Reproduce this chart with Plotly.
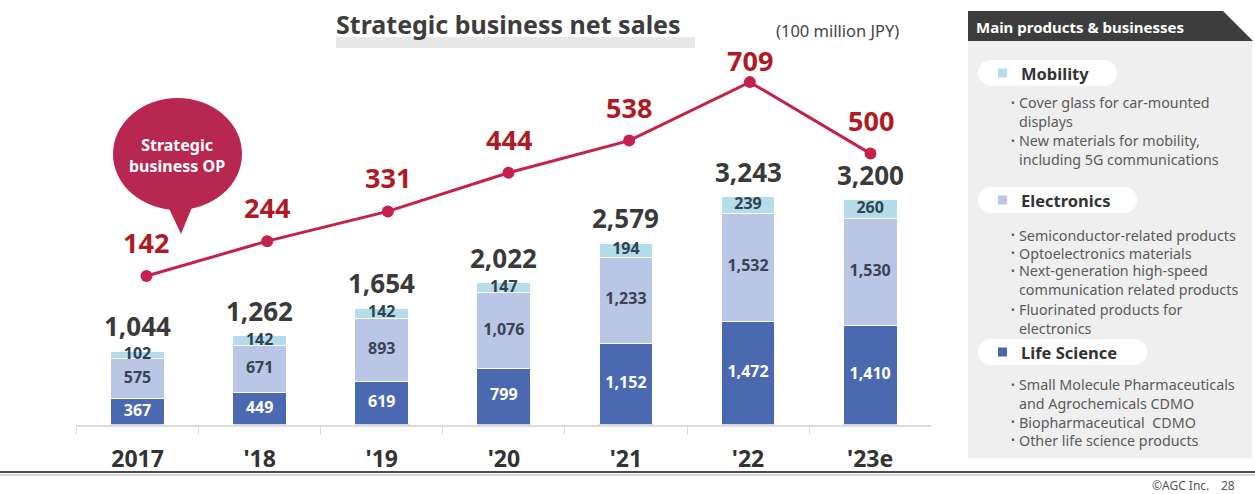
import plotly.graph_objects as go
import numpy as np

# ---------------- data ----------------
years = ["2017", "'18", "'19", "'20", "'21", "'22", "'23e"]
life_science = [367, 449, 619, 799, 1152, 1472, 1410]
electronics = [575, 671, 893, 1076, 1233, 1532, 1530]
mobility = [102, 142, 142, 147, 194, 239, 260]
totals = [1044, 1262, 1654, 2022, 2579, 3243, 3200]
op_values = [142, 244, 331, 444, 538, 709, 500]

# ---------------- styles ----------------
W, H = 1255, 494
FONT = "Noto Sans"
C_LIFE = "#4a69b1"
C_ELEC = "#b9c6e5"
C_MOB = "#b5dcea"
C_LINE = "#c4214d"
C_OPTXT = "#b01a24"
C_DARK = "#3a3a3a"


def PX(x):
    return x / W


def PY(y):
    return 1 - y / H


fig = go.Figure()

fig.add_trace(go.Bar(x=years, y=life_science, name="Life Science", marker=dict(color=C_LIFE, line=dict(color="white", width=1)), width=0.44))
fig.add_trace(go.Bar(x=years, y=electronics, name="Electronics", marker=dict(color=C_ELEC, line=dict(color="white", width=1)), width=0.44))
fig.add_trace(go.Bar(x=years, y=mobility, name="Mobility", marker=dict(color=C_MOB, line=dict(color="white", width=1)), width=0.44))

ls = np.array(life_science)
el = np.array(electronics)
mb = np.array(mobility)
fig.add_trace(go.Scatter(x=years, y=ls / 2, mode="text", text=[f"{v:,}" for v in life_science],
                         textfont=dict(family=FONT, size=16, color="white", weight="bold"), hoverinfo="skip"))
fig.add_trace(go.Scatter(x=years, y=ls + el / 2, mode="text", text=[f"{v:,}" for v in electronics],
                         textfont=dict(family=FONT, size=16, color="#3b4252", weight="bold"), hoverinfo="skip"))
fig.add_trace(go.Scatter(x=years, y=ls + el + mb / 2, mode="text", text=[f"{v:,}" for v in mobility],
                         textfont=dict(family=FONT, size=16, color="#2f4450", weight="bold"), hoverinfo="skip"))

fig.add_trace(go.Scatter(x=years, y=op_values, xaxis="x2", yaxis="y2", mode="lines+markers",
                         line=dict(color=C_LINE, width=3), marker=dict(color=C_LINE, size=12)))

# totals above bars
for i, t in enumerate(totals):
    fig.add_annotation(x=i, y=t, xref="x", yref="y", text=f"{t:,}", showarrow=False, xanchor="center",
                       yanchor="bottom", yshift=5,
                       font=dict(family=FONT, size=26, color=C_DARK, weight="bold"))

# OP labels
op_shift = [13, 13, 13, 13, 13, 1, 13]
for i, (v, s) in enumerate(zip(op_values, op_shift)):
    fig.add_annotation(x=i, y=v, xref="x2", yref="y2", text=str(v), showarrow=False, xanchor="center",
                       yanchor="bottom", yshift=s,
                       font=dict(family=FONT, size=27, color=C_OPTXT, weight="bold"))

x0d, x1d = PX(76.5), PX(931.2)
y0d, y1d = PY(424.5), PY(30)

fig.update_layout(
    width=W, height=H, margin=dict(l=0, r=0, t=0, b=0),
    paper_bgcolor="white", plot_bgcolor="white", showlegend=False, barmode="stack",
    font=dict(family=FONT),
    xaxis=dict(domain=[x0d, x1d], type="category", range=[-0.5, 6.5], showline=True, linecolor="#dcdcdc",
               linewidth=1.5, ticks="outside", tickson="boundaries", ticklen=9, tickcolor="#dcdcdc",
               showgrid=False, zeroline=False, ticklabelstandoff=13,
               tickfont=dict(family=FONT, size=23, color="#333333", weight="bold")),
    xaxis2=dict(overlaying="x", type="category", range=[-0.58, 6.503], visible=False),
    yaxis=dict(domain=[y0d, y1d], range=[0, 5620], visible=False),
    yaxis2=dict(overlaying="y", range=[-292.1, 861.4], visible=False),
)

shapes = []
ann = []

# title band + title
shapes.append(dict(type="rect", xref="paper", yref="paper", x0=PX(336), x1=PX(695), y0=PY(48), y1=PY(37),
                   fillcolor="#e8e8e8", line=dict(width=0), layer="below"))
ann.append(dict(x=PX(334), y=PY(24), xref="paper", yref="paper", xanchor="left", yanchor="middle", showarrow=False,
                text="Strategic business net sales", font=dict(family=FONT, size=25, color="#3d3d3d", weight="bold")))
ann.append(dict(x=PX(774), y=PY(31), xref="paper", yref="paper", xanchor="left", yanchor="middle", showarrow=False,
                text="(100 million JPY)", font=dict(family=FONT, size=16.5, color="#444444")))

# speech bubble
shapes.append(dict(type="circle", xref="paper", yref="paper", x0=PX(113), x1=PX(242), y0=PY(210), y1=PY(98),
                   fillcolor="#b8274f", line=dict(width=0)))
shapes.append(dict(type="path", xref="paper", yref="paper",
                   path=f"M {PX(165)},{PY(200)} L {PX(195)},{PY(200)} L {PX(181)},{PY(234)} Z",
                   fillcolor="#b8274f", line=dict(width=0)))
ann.append(dict(x=PX(177), y=PY(155), xref="paper", yref="paper", xanchor="center", yanchor="middle",
                showarrow=False, text="Strategic<br>business OP", align="center",
                font=dict(family=FONT, size=16, color="white", weight="bold")))

# right panel
shapes.append(dict(type="rect", xref="paper", yref="paper", x0=PX(968), x1=PX(1252), y0=PY(458), y1=PY(41),
                   fillcolor="#efefef", line=dict(width=0), layer="below"))
shapes.append(dict(type="path", xref="paper", yref="paper",
                   path=f"M {PX(968)},{PY(11)} L {PX(1223)},{PY(11)} L {PX(1253)},{PY(41)} L {PX(968)},{PY(41)} Z",
                   fillcolor="#3d3d3d", line=dict(width=0)))
ann.append(dict(x=PX(974), y=PY(27), xref="paper", yref="paper", xanchor="left", yanchor="middle", showarrow=False,
                text="Main products &amp; businesses", font=dict(family=FONT, size=15, color="white", weight="bold")))


def pill(x0, x1, yc, h=26):
    r = h / 2
    ya, yb = yc - r, yc + r
    k = r * 0.55
    p = (f"M {PX(x0 + r)},{PY(ya)} L {PX(x1 - r)},{PY(ya)} "
         f"C {PX(x1 - r + k)},{PY(ya)} {PX(x1)},{PY(yc - k)} {PX(x1)},{PY(yc)} "
         f"C {PX(x1)},{PY(yc + k)} {PX(x1 - r + k)},{PY(yb)} {PX(x1 - r)},{PY(yb)} "
         f"L {PX(x0 + r)},{PY(yb)} "
         f"C {PX(x0 + r - k)},{PY(yb)} {PX(x0)},{PY(yc + k)} {PX(x0)},{PY(yc)} "
         f"C {PX(x0)},{PY(yc - k)} {PX(x0 + r - k)},{PY(ya)} {PX(x0 + r)},{PY(ya)} Z")
    return dict(type="path", xref="paper", yref="paper", path=p, fillcolor="white", line=dict(width=0))


BFS = 14.3
LH = BFS * 1.3
# each bullet: (lines, y of first line)
sections = [
    ("Mobility", C_MOB, 1117, 73, [(["Cover glass for car-mounted", "displays"], 103),
                                   (["New materials for mobility,", "including 5G communications"], 141)]),
    ("Electronics", C_ELEC, 1137, 200, [(["Semiconductor-related products"], 235),
                                        (["Optoelectronics materials"], 253),
                                        (["Next-generation high-speed", "communication related products"], 271),
                                        (["Fluorinated products for", "electronics"], 310)]),
    ("Life Science", C_LIFE, 1147, 352, [(["Small Molecule Pharmaceuticals", "and Agrochemicals CDMO"], 385),
                                         (["Biopharmaceutical  CDMO"], 422),
                                         (["Other life science products"], 440)]),
]
for name, col, xr, yc, bullets in sections:
    shapes.append(pill(978, xr, yc))
    shapes.append(dict(type="rect", xref="paper", yref="paper", x0=PX(998), x1=PX(1007), y0=PY(yc + 4.5), y1=PY(yc - 4.5),
                       fillcolor=col, line=dict(width=0)))
    ann.append(dict(x=PX(1019), y=PY(yc), xref="paper", yref="paper", xanchor="left", yanchor="middle", showarrow=False,
                    text=name, font=dict(family=FONT, size=16.5, color="#333333", weight="bold")))
    for lines, y_first in bullets:
        ann.append(dict(x=PX(1010), y=PY(y_first), xref="paper", yref="paper", xanchor="left", yanchor="middle",
                        showarrow=False, text="•", borderpad=0, font=dict(family=FONT, size=10, color="#555555")))
        y_mid = y_first + LH * (len(lines) - 1) / 2
        ann.append(dict(x=PX(1018), y=PY(y_mid), xref="paper", yref="paper", xanchor="left", yanchor="middle",
                        showarrow=False, text="<br>".join(lines), align="left", borderpad=0,
                        font=dict(family=FONT, size=BFS, color="#5a5a5a")))

# footer lines and text
shapes.append(dict(type="line", xref="paper", yref="paper", x0=0, x1=1, y0=PY(472), y1=PY(472),
                   line=dict(color="#4d4d4d", width=2)))
shapes.append(dict(type="line", xref="paper", yref="paper", x0=0, x1=1, y0=PY(475), y1=PY(475),
                   line=dict(color="#b0b0b0", width=1)))
ann.append(dict(x=PX(1180), y=PY(485), xref="paper", yref="paper", xanchor="center", yanchor="middle",
                showarrow=False, text="©AGC Inc.", borderpad=0, font=dict(family=FONT, size=12, color="#555555")))
ann.append(dict(x=PX(1228), y=PY(485), xref="paper", yref="paper", xanchor="center", yanchor="middle",
                showarrow=False, text="28", borderpad=0, font=dict(family=FONT, size=12, color="#555555")))

fig.update_layout(shapes=shapes)
for a in ann:
    fig.add_annotation(**a)

fig.write_html("out.html", config={"displayModeBar": False},
               post_script="document.body.style.margin='0px';document.body.style.overflow='hidden';")
